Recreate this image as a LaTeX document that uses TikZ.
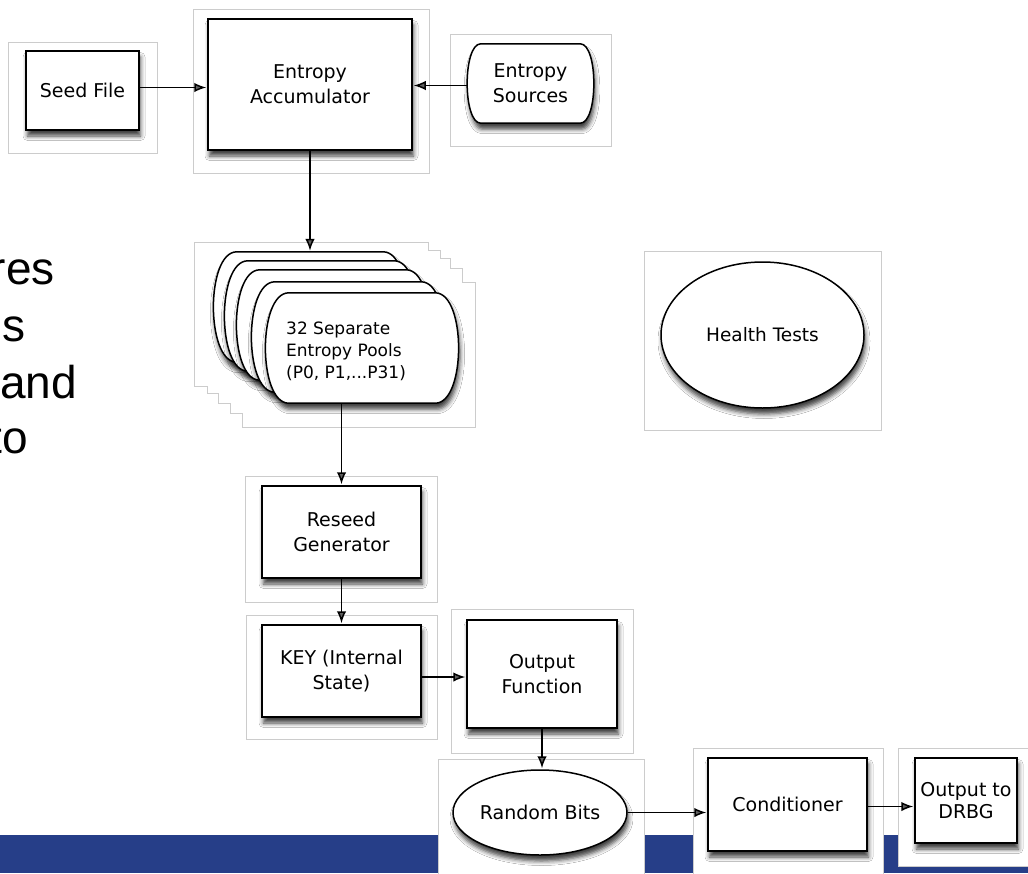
\documentclass[tikz,border=0pt]{standalone}
\usepackage{fontspec}
\setmainfont{DejaVu Sans}
\newfontfamily\slidefont{Liberation Sans}
\usetikzlibrary{arrows.meta,shapes.geometric,shadows.blur}
\definecolor{bandblue}{RGB}{38,62,136}
\definecolor{panelgray}{RGB}{204,204,204}

% outline with bulging left and right sides, drawn round a named node
\newcommand\bulgeoutline[2]{%
  \draw[sh, draw=black, line width=1.5pt, fill=white]
    ([xshift=#2]#1.north west) -- ([xshift=-#2]#1.north east)
    .. controls ([xshift=0.3*#2]#1.north east) and ([xshift=0.3*#2]#1.south east)
    .. ([xshift=-#2]#1.south east)
    -- ([xshift=#2]#1.south west)
    .. controls ([xshift=-0.3*#2]#1.south west) and ([xshift=-0.3*#2]#1.north west)
    .. ([xshift=#2]#1.north west) -- cycle;}

\begin{document}
\begin{tikzpicture}[x=1pt,y=-1pt,
  panel/.style={draw=panelgray, line width=0.9pt, fill=white},
  sh/.style={blur shadow={shadow xshift=1.5pt, shadow yshift=-6pt,
      shadow blur radius=4.5pt, shadow opacity=75}},
  txt/.style={inner sep=0pt, align=center, font=\fontsize{19}{25}\selectfont},
  box/.style={txt, sh, rectangle, draw=black, line width=1.5pt, fill=white},
  frame/.style={rectangle, inner sep=0pt},
  arr/.style={-{Latex[length=12pt,width=9.5pt]}, line width=1.5pt, shorten >=1pt},
  slide/.style={font=\slidefont\fontsize{46}{56}\selectfont, inner sep=0pt}
]
\useasboundingbox (0,0) rectangle (1028,873);
\clip (0,0) rectangle (1028,873);

% footer band of the slide
\fill[bandblue] (0,835) rectangle (1028,873);

% leftover words of the slide text
\node[slide, anchor=base east] (w1) at (55,284) {res};
\node[slide, anchor=base east] (w2) at (26,341) {s};
\node[slide, anchor=base east] (w3) at (77,398) {and};
\node[slide, anchor=base east] (w4) at (28,453) {to};

% light frames behind each element
\draw[panel] (8,42) rectangle (157,153);
\draw[panel] (193,9) rectangle (429,173);
\draw[panel] (450,34) rectangle (611,146);
\draw[panel] (194,242) -- (428,242) -- (428,250) -- (440,250) -- (440,258)
  -- (450,258) -- (450,268) -- (462,268) -- (462,282) -- (475,282)
  -- (475,427) -- (242,427) -- (242,413) -- (230,413) -- (230,403)
  -- (218,403) -- (218,393) -- (207,393) -- (207,386) -- (194,386) -- cycle;
\draw[panel] (644,251) rectangle (881,430);
\draw[panel] (245,476) rectangle (437,602);
\draw[panel] (246,615) rectangle (437,739);
\draw[panel] (451,609) rectangle (633,753);
\draw[panel] (438,759) rectangle (644,880);
\draw[panel] (693,748) rectangle (883,880);
\draw[panel] (898,748) rectangle (1040,866);

% elements
\node[box, minimum width=113pt, minimum height=79pt] (seed) at (82.5,90.5) {Seed File};
\node[box, minimum width=204pt, minimum height=131pt] (acc) at (310,84.5) {Entropy\\Accumulator};

\node[frame, minimum width=127pt, minimum height=79pt] (src) at (530.5,83.5) {};
\bulgeoutline{src}{14pt}
\node[txt] (srctext) at (src) {Entropy\\Sources};

\foreach \i/\cx/\cy in {0/310/307,1/321/316,2/333/325,3/348/337,4/362/348}{
  \node[frame, minimum width=194pt, minimum height=110pt] (pool\i) at (\cx,\cy) {};
  \bulgeoutline{pool\i}{24pt}
}
\node[align=left, anchor=west, inner sep=0pt, font=\fontsize{17}{22}\selectfont]
  (pooltext) at (286,351) {32 Separate\\Entropy Pools\\(P0, P1,...P31)};

\node[box, ellipse, minimum width=203pt, minimum height=146pt,
      font=\fontsize{18.5}{22}\selectfont] (health) at (762.5,335) {Health Tests};

\node[box, minimum width=159pt, minimum height=92pt] (reseed) at (341.5,532) {Reseed\\Generator};
\node[box, minimum width=159pt, minimum height=92pt] (key) at (341.5,671) {KEY (Internal\\State)};
\node[box, minimum width=150pt, minimum height=108pt] (outf) at (542,674) {Output\\Function};
\node[box, ellipse, minimum width=174pt, minimum height=85pt] (rnd) at (540,812.5) {Random Bits};
\node[box, minimum width=159pt, minimum height=93pt] (cond) at (787.5,804.5) {Conditioner};
\node[box, minimum width=102pt, minimum height=85pt,
      font=\fontsize{19}{22}\selectfont] (drbg) at (966,800.5) {Output to\\DRBG};

% connectors
\draw[arr] ([yshift=3pt]seed.east) -- ([yshift=3pt]seed.east -| acc.west);
\draw[arr] ([yshift=-2pt]src.west) -- ([yshift=-2pt]src.west -| acc.east);
\draw[arr] (acc.south) -- (pool0.north);
\draw[arr] (reseed.north |- pool4.south) -- (reseed.north);
\draw[arr] (reseed.south) -- (key.north);
\draw[arr] ([yshift=-6pt]key.east) -- ([yshift=-6pt]key.east -| outf.west);
\draw[arr] (outf.south) -- (outf.south |- rnd.north);
\draw[arr] (rnd.east) -- (rnd.east -| cond.west);
\draw[arr] ([yshift=-2pt]cond.east) -- ([yshift=-2pt]cond.east -| drbg.west);
\end{tikzpicture}
\end{document}
